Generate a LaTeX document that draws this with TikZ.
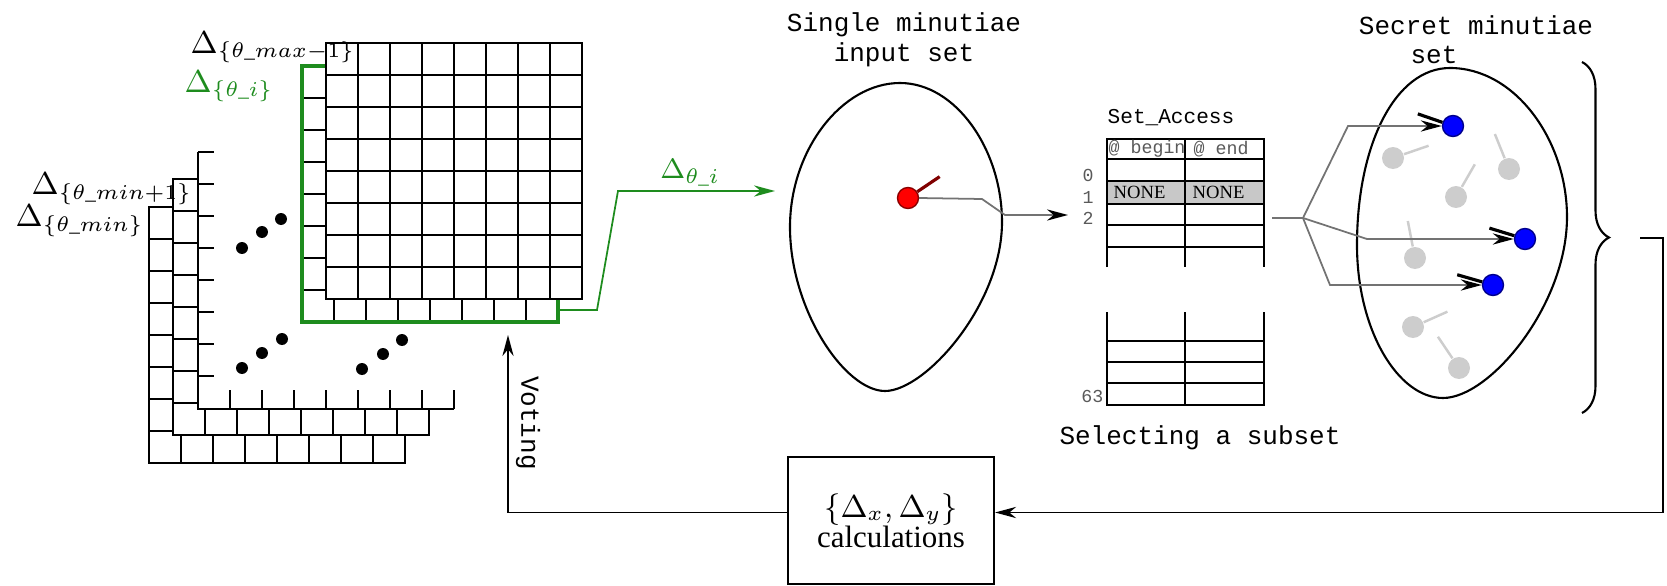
\documentclass[tikz,border=0pt]{standalone}
\usepackage[no-math]{fontspec}
\setmainfont{Liberation Serif}
\setmonofont{Liberation Mono}
\usepackage{amsmath}
\usetikzlibrary{arrows.meta,decorations.pathreplacing}
\definecolor{setgreen}{RGB}{30,140,30}
\definecolor{dotgray}{RGB}{205,205,205}
\definecolor{rowgray}{RGB}{200,200,200}
\definecolor{labgray}{RGB}{90,90,90}

\begin{document}
\begin{tikzpicture}[
  gridln/.style={line width=0.6pt},
  greenln/.style={setgreen, line width=1.1pt},
  dlab/.style={font=\fontsize{9}{10}\selectfont, inner sep=0pt, anchor=base west},
  mono/.style={font=\fontsize{7.4}{8.5}\selectfont\ttfamily, inner sep=0pt},
  tiny/.style={font=\fontsize{5.2}{6}\selectfont\ttfamily, inner sep=0pt, text=labgray},
  cell/.style={font=\fontsize{5.3}{6}\selectfont, inner sep=0pt, anchor=west},
  minu/.style={circle, draw=#1!55!black, fill=#1, inner sep=0pt, minimum size=0.21cm},
  gmin/.style={circle, fill=dotgray, inner sep=0pt, minimum size=0.22cm},
  arr/.style={-{Stealth[length=6pt, width=3.2pt]}, line width=0.5pt},
  garr/.style={-{Stealth[length=6pt, width=3.2pt, black]}, black!55, line width=0.5pt}
]
  \useasboundingbox (0,0) rectangle (16.67,-5.86);
  % ---------------- stacked vote tables ----------------
  \foreach \lx/\ly in {1.49/-2.07, 1.73/-1.79}
    \draw[gridln, fill=white, shift={(\lx,\ly)}] (0,0) rectangle (2.56,-2.56)
      (0,0) grid[step=0.32] (2.56,-2.56);
  \fill[white] (1.98,-1.52) rectangle (4.54,-4.09);
  \draw[gridln] (1.98,-1.52) -- (1.98,-4.09) -- (4.54,-4.09);
  \foreach \k in {0,...,7}
    \draw[gridln] (1.98,-1.52-0.32*\k) -- ++(0.16,0);
  \foreach \k in {1,...,8}
    \draw[gridln] (1.98+0.32*\k,-4.09) -- ++(0,0.19);
  \foreach \dx/\dy in {2.42/-2.48, 2.62/-2.32, 2.81/-2.19,
                       2.42/-3.68, 2.62/-3.53, 2.82/-3.39,
                       3.62/-3.69, 3.83/-3.54, 4.02/-3.40}
    \fill (\dx,\dy) circle (0.06);
  \draw[gridln, fill=white, shift={(3.02,-0.66)}] (0,0) rectangle (2.56,-2.56)
    (0,0) grid[step=0.32] (2.56,-2.56);
  \draw[greenln] (3.02,-0.66) rectangle (5.58,-3.22);
  \draw[gridln, fill=white, shift={(3.26,-0.43)}] (0,0) rectangle (2.56,-2.56)
    (0,0) grid[step=0.32] (2.56,-2.56);
  % layer labels
  \node[dlab] (lmax) at (1.90,-0.53) {$\Delta_{\{\theta\_max-1\}}$};
  \node[dlab, text=setgreen] (li) at (1.84,-0.92) {$\Delta_{\{\theta\_i\}}$};
  \node[dlab] (lminb) at (0.31,-1.95) {$\Delta_{\{\theta\_min+1\}}$};
  \node[dlab] (lmin) at (0.15,-2.27) {$\Delta_{\{\theta\_min\}}$};
  % ---------------- input set ----------------
  \node[mono, align=center] (intitle) at (9.04,-0.40) {Single minutiae\\input set};
  \draw[gridln] (9.00,-0.83) .. controls (9.56,-0.83) and (10.02,-1.50) .. (10.02,-2.22)
    .. controls (10.02,-3.05) and (9.25,-3.91) .. (8.85,-3.91)
    .. controls (8.45,-3.91) and (7.90,-3.10) .. (7.90,-2.27)
    .. controls (7.90,-1.50) and (8.42,-0.83) .. (9.00,-0.83) -- cycle;
  \node[minu=red] (reddot) at (9.08,-1.98) {};
  \draw[red!50!black, line width=0.9pt] (reddot.34) -- ++(34:0.27);
  \coordinate (gport) at (5.60,-3.10);
  \coordinate (gin) at (7.75,-1.91);
  \draw[arr, setgreen] (gport) -- (5.97,-3.10) -- (6.18,-1.91)
    -- node[pos=0.46, above=0pt, inner sep=1pt, font=\fontsize{8.5}{9}\selectfont] {$\Delta_{\theta\_i}$} (gin);
  % ---------------- Set_Access table ----------------
  \node[font=\fontsize{6}{7}\selectfont\ttfamily, inner sep=0pt, anchor=west] (tabtitle) at (11.07,-1.18) {Set\_Access};
  \fill[rowgray] (11.07,-1.81) rectangle (12.64,-2.04);
  \draw[gridln] (11.07,-2.67) -- (11.07,-1.39) -- (12.64,-1.39) -- (12.64,-2.67)
    (11.85,-1.39) -- (11.85,-2.67);
  \foreach \ty in {-1.59,-1.81,-2.04,-2.25,-2.47}
    \draw[gridln] (11.07,\ty) -- (12.64,\ty);
  \draw[gridln] (11.07,-3.12) -- (11.07,-4.05) -- (12.64,-4.05) -- (12.64,-3.12)
    (11.85,-3.12) -- (11.85,-4.05);
  \foreach \ty in {-3.41,-3.62,-3.83}
    \draw[gridln] (11.07,\ty) -- (12.64,\ty);
  \node[tiny, anchor=west] (hbeg) at (11.08,-1.49) {@ begin};
  \node[tiny, anchor=west] (hend) at (11.93,-1.49) {@ end};
  \node[cell] (none1) at (11.13,-1.925) {NONE};
  \node[cell] (none2) at (11.92,-1.925) {NONE};
  \node[tiny] (r0) at (10.88,-1.75) {0};
  \node[tiny] (r1) at (10.88,-1.97) {1};
  \node[tiny] (r2) at (10.88,-2.18) {2};
  \node[tiny, anchor=east] (r63) at (11.04,-3.96) {63};
  \node[mono] (seltitle) at (12.00,-4.38) {Selecting a subset};
  \coordinate (tin) at (10.68,-2.15);
  \draw[garr] (reddot.east) -- (9.82,-1.99) -- (10.05,-2.15) -- (tin);
  % ---------------- secret set ----------------
  \node[mono] (sectitle) at (14.76,-0.25) {Secret minutiae};
  \node[mono] (secset) at (14.34,-0.55) {set};
  \draw[gridln] (14.50,-0.68) .. controls (15.15,-0.68) and (15.67,-1.40) .. (15.67,-2.17)
    .. controls (15.67,-3.05) and (14.90,-3.98) .. (14.43,-3.98)
    .. controls (13.98,-3.98) and (13.57,-3.30) .. (13.57,-2.45)
    .. controls (13.57,-1.45) and (13.95,-0.68) .. (14.50,-0.68) -- cycle;
  \foreach \gx/\gy/\ga [count=\i] in {13.93/-1.58/19, 15.09/-1.69/112, 14.56/-1.97/60,
                                      14.15/-2.58/101, 14.13/-3.27/24, 14.59/-3.68/124}
  {
    \node[gmin] (g\i) at (\gx,\gy) {};
    \draw[dotgray, line width=0.7pt] (g\i.\ga) -- ++(\ga:0.26);
  }
  \foreach \bx/\by/\ba [count=\i] in {14.53/-1.26/161, 15.25/-2.39/163, 14.93/-2.85/164}
  {
    \node[minu=blue] (b\i) at (\bx,\by) {};
    \draw[line width=0.9pt] (b\i.\ba) -- ++(\ba:0.26);
  }
  \coordinate (tout) at (12.72,-2.18);
  \coordinate (fork) at (13.03,-2.18);
  \draw[black!55, line width=0.5pt] (tout) -- (fork);
  \draw[garr] (fork) -- (13.48,-1.26) -- (b1);
  \draw[garr] (fork) -- (13.67,-2.39) -- (b2);
  \draw[garr] (fork) -- (13.30,-2.85) -- (b3);
  \draw[gridln, decorate, decoration={brace, amplitude=0.27cm}] (15.82,-0.62) -- (15.82,-4.13);
  % ---------------- feedback ----------------
  \node[draw, gridln, minimum width=2.06cm, minimum height=1.27cm, align=center,
        font=\fontsize{8.8}{8.5}\selectfont] (calc) at (8.91,-5.205)
        {$\{\Delta_x,\Delta_y\}$\\calculations};
  \coordinate (ret) at (16.40,-2.38);
  \coordinate (rcorner) at (16.63,-2.38);
  \draw[arr] (ret) -- (rcorner) |- ([yshift=0.08cm]calc.east);
  \coordinate (vote) at (5.08,-3.35);
  \draw[arr] ([yshift=0.08cm]calc.west) -| (vote);
  \node[mono, rotate=-90] (votelab) at (5.28,-4.23) {Voting};
\end{tikzpicture}
\end{document}
